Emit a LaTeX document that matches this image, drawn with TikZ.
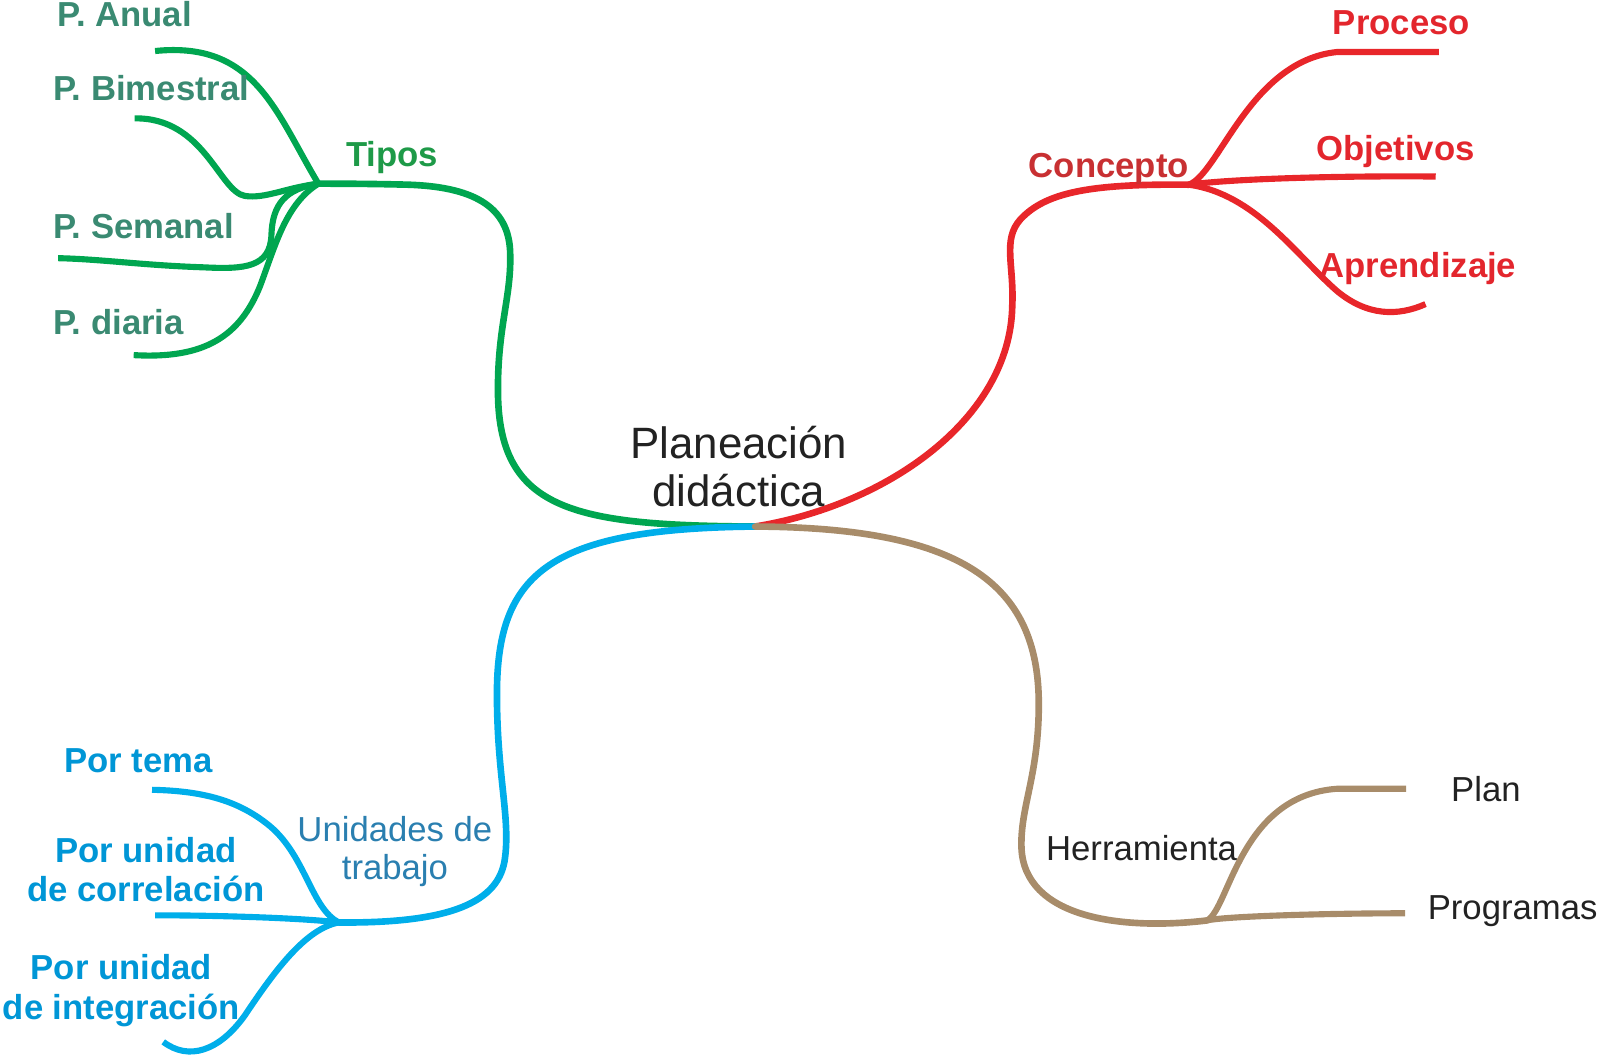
\documentclass[tikz,border=0pt]{standalone}
\usepackage{fontspec}
\setmainfont{Liberation Sans}
\definecolor{grn}{HTML}{00A650}
\definecolor{grntxt}{HTML}{3A8A72}
\definecolor{tipos}{HTML}{1E9A48}
\definecolor{redl}{HTML}{E8262A}
\definecolor{redtxt}{HTML}{E3262D}
\definecolor{concepto}{HTML}{C83032}
\definecolor{bluel}{HTML}{00AEEA}
\definecolor{bluetxt}{HTML}{0096D6}
\definecolor{unid}{HTML}{2A7FB0}
\definecolor{brownl}{HTML}{A88C6A}
\definecolor{dark}{HTML}{222222}
\begin{document}
\begin{tikzpicture}[x=1pt,y=-1pt,
  mainbr/.style={line width=6.5pt,line cap=round},
  subbr/.style={line width=6pt,line cap=butt},
  lbl/.style={inner sep=0pt,font=\fontsize{34}{38}\selectfont},
  blbl/.style={lbl,font=\fontsize{34}{38}\selectfont\bfseries},
  ctr/.style={inner sep=0pt,font=\fontsize{43}{48}\selectfont,text=dark}]
\useasboundingbox (0,0) rectangle (1568,1036);
% junctions
\coordinate (C) at (740,516);
\coordinate (T) at (312,180);
\coordinate (K) at (1165,181);
\coordinate (U) at (332,904);
\coordinate (H) at (1183,902);
% ends
\coordinate (eA) at (152,50);
\coordinate (eB) at (132,116);
\coordinate (eS) at (57,253);
\coordinate (eD) at (131,348);
\coordinate (eP) at (1410,51);
\coordinate (eO) at (1407,173);
\coordinate (eAp) at (1397,298);
\coordinate (eT) at (149,774);
\coordinate (eCo) at (152,897);
\coordinate (eI) at (160,1021);
\coordinate (ePl) at (1378,773);
\coordinate (ePr) at (1377,895);

% main branches
\draw[mainbr,grn] (C) .. controls (560,515) and (487,500) .. (488,380)
  .. controls (488,320) and (501,290) .. (500,250)
  .. controls (500,200) and (460,183) .. (400,181)
  .. controls (360,180) and (330,180) .. (T);
\draw[mainbr,redl] (C) .. controls (870,495) and (990,410) .. (992,300)
  .. controls (994,260) and (982,235) .. (1000,215)
  .. controls (1025,188) and (1070,180) .. (K);
\draw[mainbr,bluel] (C) .. controls (540,518) and (487,560) .. (487,680)
  .. controls (487,760) and (500,800) .. (495,840)
  .. controls (490,885) and (440,905) .. (U);
\draw[mainbr,brownl] (C) .. controls (940,517) and (1018,570) .. (1018,690)
  .. controls (1018,760) and (1000,790) .. (1001,830)
  .. controls (1003,900) and (1100,912) .. (H);

% green sub-branches
\draw[subbr,grn] (T) .. controls (270,110) and (250,40) .. (eA);
\draw[subbr,grn] (T) .. controls (280,184) and (260,195) .. (240,192)
  .. controls (215,188) and (200,115) .. (eB);
\draw[subbr,grn] (T) .. controls (280,185) and (267,200) .. (266,230)
  .. controls (265,262) and (240,264) .. (200,262)
  .. controls (140,260) and (100,254) .. (eS);
\draw[subbr,grn] (T) .. controls (280,200) and (270,240) .. (255,280)
  .. controls (235,330) and (200,352) .. (eD);

% red sub-branches
\draw[subbr,redl] (K) .. controls (1195,170) and (1225,60) .. (1310,51) -- (eP);
\draw[subbr,redl] (K) .. controls (1200,176) and (1300,172) .. (eO);
\draw[subbr,redl] (K) .. controls (1230,190) and (1270,250) .. (1310,285)
  .. controls (1340,310) and (1370,310) .. (eAp);

% blue sub-branches
\draw[subbr,bluel] (U) .. controls (305,890) and (300,840) .. (265,810)
  .. controls (235,785) and (200,775) .. (eT);
\draw[subbr,bluel] (U) .. controls (300,900) and (220,897) .. (eCo);
\draw[subbr,bluel] (U) .. controls (300,910) and (270,950) .. (240,995)
  .. controls (215,1030) and (185,1040) .. (eI);

% brown sub-branches
\draw[subbr,brownl] (H) .. controls (1205,890) and (1215,780) .. (1310,773) -- (ePl);
\draw[subbr,brownl] (H) .. controls (1200,898) and (1300,895) .. (ePr);

% center text
\node[ctr,anchor=base] (c1) at (724,449) {Planeación};
\node[ctr,anchor=base] (c2) at (724,496) {didáctica};

% green labels
\node[blbl,text=grntxt,anchor=base west] (lA) at (56,26) {P. Anual};
\node[blbl,text=grntxt,anchor=base west] (lB) at (52,98) {P. Bimestral};
\node[blbl,text=grntxt,anchor=base west] (lS) at (52,234) {P. Semanal};
\node[blbl,text=grntxt,anchor=base west] (lD) at (52,328) {P. diaria};
\node[blbl,text=tipos,anchor=base west] (lT) at (339,163) {Tipos};

% red labels
\node[blbl,text=concepto,anchor=base west] (lK) at (1008,174) {Concepto};
\node[blbl,text=redtxt,anchor=base west] (lP) at (1306,34) {Proceso};
\node[blbl,text=redtxt,anchor=base west] (lO) at (1290,157) {Objetivos};
\node[blbl,text=redtxt,anchor=base west] (lAp) at (1293,272) {Aprendizaje};

% blue labels
\node[lbl,text=unid,anchor=base] (lU1) at (387,825) {Unidades de};
\node[lbl,text=unid,anchor=base] (lU2) at (387,862) {trabajo};
\node[blbl,text=bluetxt,anchor=base west] (lTe) at (63,757) {Por tema};
\node[blbl,text=bluetxt,anchor=base] (lC1) at (143,845) {Por unidad};
\node[blbl,text=bluetxt,anchor=base] (lC2) at (143,883) {de correlación};
\node[blbl,text=bluetxt,anchor=base] (lI1) at (119,960) {Por unidad};
\node[blbl,text=bluetxt,anchor=base] (lI2) at (119,999) {de integración};

% brown labels
\node[lbl,text=dark,anchor=base west] (lH) at (1025,843) {Herramienta};
\node[lbl,text=dark,anchor=base west] (lPl) at (1422,785) {Plan};
\node[lbl,text=dark,anchor=base west] (lPr) at (1399,901) {Programas};
\end{tikzpicture}
\end{document}
